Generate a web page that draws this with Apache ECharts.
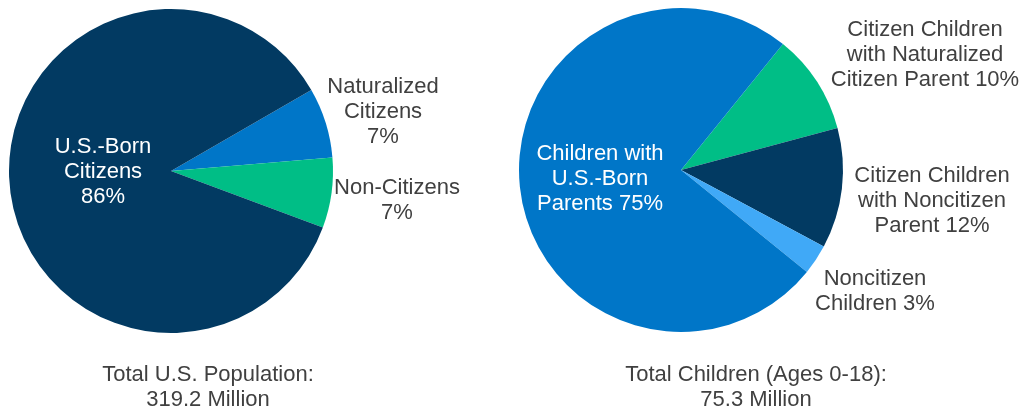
<!DOCTYPE html>
<html>
<head>
<meta charset="utf-8">
<script src="https://cdn.jsdelivr.net/npm/echarts@6/dist/echarts.min.js"></script>
<style>
  html, body { margin: 0; padding: 0; background: #fff; }
  #chart { width: 1021px; height: 409px; }
</style>
</head>
<body>
<div id="chart"></div>
<script>
// Population by citizenship status
const popNames = ['Naturalized\nCitizens\n7%', 'Non-Citizens\n7%', 'U.S.-Born\nCitizens\n86%'];
const popValues = [7, 7, 86];
const popTotal = 'Total U.S. Population:\n319.2 Million';

// Children by parental citizenship status
const kidNames = ['Citizen Children\nwith Naturalized\nCitizen Parent 10%', 'Citizen Children\nwith Noncitizen\nParent 12%', 'Noncitizen\nChildren 3%', 'Children with\nU.S.-Born\nParents 75%'];
const kidValues = [10, 12, 3, 75];
const kidTotal = 'Total Children (Ages 0-18):\n75.3 Million';

const NAVY = '#023a62', BLUE = '#0076c8', GREEN = '#00be86', LIGHT = '#40a9f7';
const FONT = '"Liberation Sans", Arial, sans-serif';
const GRAY = '#404040';
const FS = 22, LH = 25;

// label anchor points (centre of each text block)
const popLabelPos = [[383, 112], [397, 200], [103, 172]];
const kidLabelPos = [[925, 55], [932, 201], [875, 291], [600, 179]];

function layoutFor(pos) {
  return function (params) {
    const p = pos[params.dataIndex];
    return { x: p[0], y: p[1], align: 'center', verticalAlign: 'middle' };
  };
}

function labelStyle(inside) {
  return {
    show: true, position: inside ? 'inside' : 'outside', formatter: '{b}',
    color: inside ? '#ffffff' : GRAY, overflow: 'none',
    fontFamily: FONT, fontSize: FS, lineHeight: LH, align: 'center'
  };
}

const chart = echarts.init(document.getElementById('chart'), null, { renderer: 'canvas' });
chart.setOption({
  animation: false,
  title: [
    { text: popTotal, left: 203, top: 357, textAlign: 'center',
      textStyle: { fontFamily: FONT, fontSize: FS, fontWeight: 'normal', color: GRAY, lineHeight: LH } },
    { text: kidTotal, left: 751, top: 357, textAlign: 'center',
      textStyle: { fontFamily: FONT, fontSize: FS, fontWeight: 'normal', color: GRAY, lineHeight: LH } }
  ],
  series: [
    {
      type: 'pie',
      center: [171, 171],
      radius: [0, 162],
      startAngle: 30,
      clockwise: true,
      silent: true,
      avoidLabelOverlap: false,
      itemStyle: { borderWidth: 0 },
      data: popNames.map((n, i) => ({
        name: n, value: popValues[i],
        itemStyle: { color: [BLUE, GREEN, NAVY][i] },
        label: labelStyle(i === 2)
      })),
      labelLine: { show: false },
      labelLayout: layoutFor(popLabelPos)
    },
    {
      type: 'pie',
      center: [681, 170],
      radius: [0, 162],
      startAngle: 51,
      clockwise: true,
      silent: true,
      avoidLabelOverlap: false,
      itemStyle: { borderWidth: 0 },
      data: kidNames.map((n, i) => ({
        name: n, value: kidValues[i],
        itemStyle: { color: [GREEN, NAVY, LIGHT, BLUE][i] },
        label: labelStyle(i === 3)
      })),
      labelLine: { show: false },
      labelLayout: layoutFor(kidLabelPos)
    }
  ]
});
</script>
</body>
</html>
